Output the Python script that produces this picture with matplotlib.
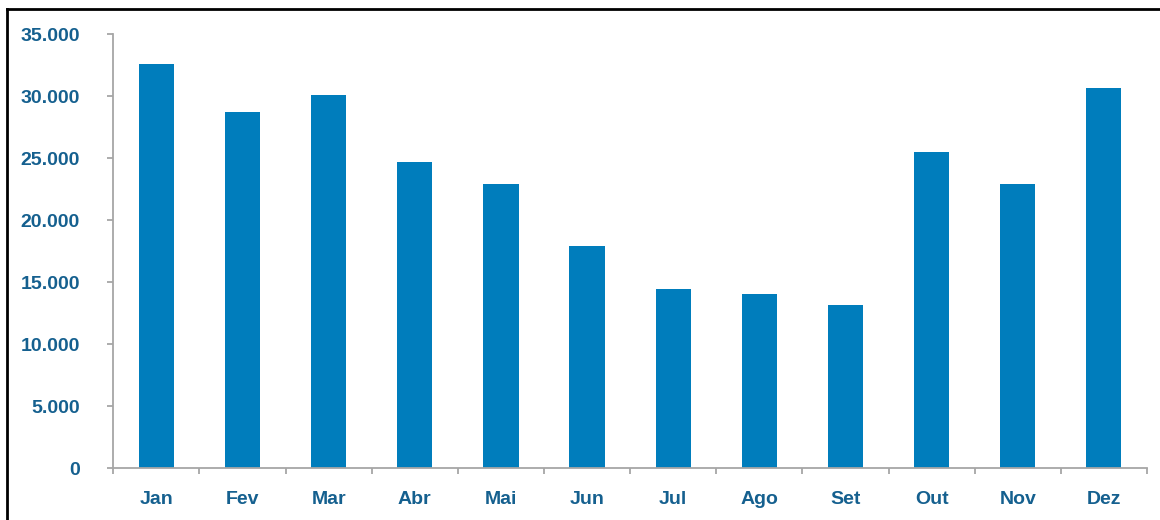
import numpy as np
import matplotlib.pyplot as plt
from matplotlib.lines import Line2D
from matplotlib.ticker import FuncFormatter, FixedLocator

meses = ['Jan', 'Fev', 'Mar', 'Abr', 'Mai', 'Jun', 'Jul', 'Ago', 'Set', 'Out', 'Nov', 'Dez']
valores = [32600, 28700, 30100, 24700, 22900, 17900, 14500, 14050, 13170, 25500, 22900, 30700]

bar_color = '#007dbc'
text_color = '#15608f'
axis_color = '#a6a6a6'

plt.rcParams['font.family'] = ['Liberation Sans', 'DejaVu Sans']

fig = plt.figure(figsize=(11.6, 5.2), dpi=100)
ax = fig.add_axes([0.0977, 0.0994, 0.891, 0.8346])

x = np.arange(len(meses))
ax.bar(x, valores, width=0.41, color=bar_color, zorder=2)

ax.set_xlim(-0.5, len(meses) - 0.5)
ax.set_ylim(0, 35000)
ax.set_yticks(np.arange(0, 35001, 5000))
ax.yaxis.set_major_formatter(FuncFormatter(lambda v, p: f'{int(v):,}'.replace(',', '.')))

ax.set_xticks(x)
ax.set_xticklabels(meses)
ax.xaxis.set_minor_locator(FixedLocator(np.arange(-0.5, len(meses), 1.0)))

for s in ['top', 'right']:
    ax.spines[s].set_visible(False)
for s in ['left', 'bottom']:
    ax.spines[s].set_color(axis_color)
    ax.spines[s].set_linewidth(1.3)

ax.tick_params(axis='y', length=4.5, width=1.3, color=axis_color, pad=19.5,
               labelsize=14, labelcolor=text_color)
ax.tick_params(axis='x', which='major', length=0, pad=16.5,
               labelsize=14, labelcolor=text_color)
ax.tick_params(axis='x', which='minor', length=4.5, width=1.3, color=axis_color)
for lbl in ax.get_xticklabels() + ax.get_yticklabels():
    lbl.set_fontweight('bold')

# moldura
fig.add_artist(Line2D([0.006, 0.006], [0, 0.983], transform=fig.transFigure, color='black', lw=2))
fig.add_artist(Line2D([0.006, 1.0], [0.983, 0.983], transform=fig.transFigure, color='black', lw=2))

fig.savefig('out.png', dpi=100)
